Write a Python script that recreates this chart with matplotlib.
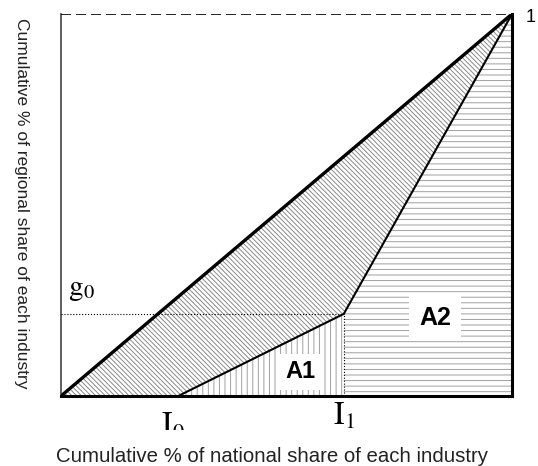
import matplotlib.pyplot as plt
import numpy as np
from matplotlib.patches import Rectangle

# Lorenz-type curve: cumulative national share (x) vs cumulative regional share (y)
curve_x = [0.0, 0.26, 0.627, 1.0]
curve_y = [0.0, 0.0, 0.215, 1.0]
i0 = 0.26
i1 = 0.627
g0 = 0.215

plt.rcParams['font.family'] = ['Liberation Sans', 'DejaVu Sans']
plt.rcParams['mathtext.fontset'] = 'stix'
plt.rcParams['hatch.linewidth'] = 0.7

fig = plt.figure(figsize=(5.38, 4.66), dpi=100)
ax = fig.add_axes([61 / 538, 70 / 466, 451 / 538, 382 / 466])
ax.set_xlim(0, 1)
ax.set_ylim(0, 1)

cx = np.array(curve_x)
cy = np.array(curve_y)

# area between the equality line and the curve
ax.fill_between(cx, cx, cy, facecolor='white', edgecolor='#8a8a8a',
                hatch='\\\\\\\\\\\\\\', linewidth=0, zorder=1)
# A1: under the curve between I0 and I1
m1 = (cx >= i0) & (cx <= i1)
ax.fill_between(cx[m1], 0, cy[m1], facecolor='white', edgecolor='#a0a0a0',
                hatch='|||', linewidth=0, zorder=1)
# A2: under the curve between I1 and 1
m2 = cx >= i1
ax.fill_between(cx[m2], 0, cy[m2], facecolor='white', edgecolor='#a0a0a0',
                hatch='---', linewidth=0, zorder=1)

ax.plot([0, 1], [0, 1], color='black', lw=2.4, solid_capstyle='round', zorder=3)
ax.plot(curve_x[1:], curve_y[1:], color='black', lw=1.5, zorder=3)
ax.plot([0, 1], [1, 1], color='black', lw=1.2, ls=(0, (6, 3)), zorder=3)
ax.plot([0, i1], [g0, g0], color='black', lw=0.8, ls=':', zorder=3)
ax.plot([i1, i1], [0, g0], color='black', lw=0.8, ls=':', zorder=3)

ax.spines['top'].set_visible(False)
ax.spines['left'].set_color('#444444')
ax.spines['left'].set_linewidth(1.2)
ax.spines['bottom'].set_linewidth(2.2)
ax.spines['right'].set_linewidth(2.2)
ax.set_xticks([])
ax.set_yticks([])

ax.text(0.53, 0.063, 'A1', fontsize=17, fontweight='bold', ha='center', va='center',
        zorder=2, bbox=dict(facecolor='white', edgecolor='none', pad=5))
ax.text(0.829, 0.204, 'A2', fontsize=18, fontweight='bold', ha='center', va='center',
        zorder=2, bbox=dict(facecolor='white', edgecolor='none', pad=7))

ax.text(0.015, g0 + 0.065, r'$\mathrm{g_0}$', fontsize=21, ha='left', va='center')
ax.text(i1, -0.012, r'$\mathrm{I_1}$', fontsize=23, ha='center', va='top')
t0 = ax.text(0.248, -0.04, r'$\mathrm{I_0}$', fontsize=23, ha='center', va='top',
             clip_on=True)
t0.set_clip_path(Rectangle((0, 36), 538, 430, transform=None))
ax.text(1.03, 0.99, '1', fontsize=13, ha='left', va='center', clip_on=False)

fig.text(272 / 538, 9 / 466, 'Cumulative % of national share of each industry',
         fontsize=14.7, ha='center', va='center', color='#222222')
fig.text(21 / 538, 263 / 466, 'Cumulative % of regional share of each industry',
         fontsize=12.5, ha='center', va='center', rotation=270, color='#222222')

fig.savefig('out.png', dpi=100)
